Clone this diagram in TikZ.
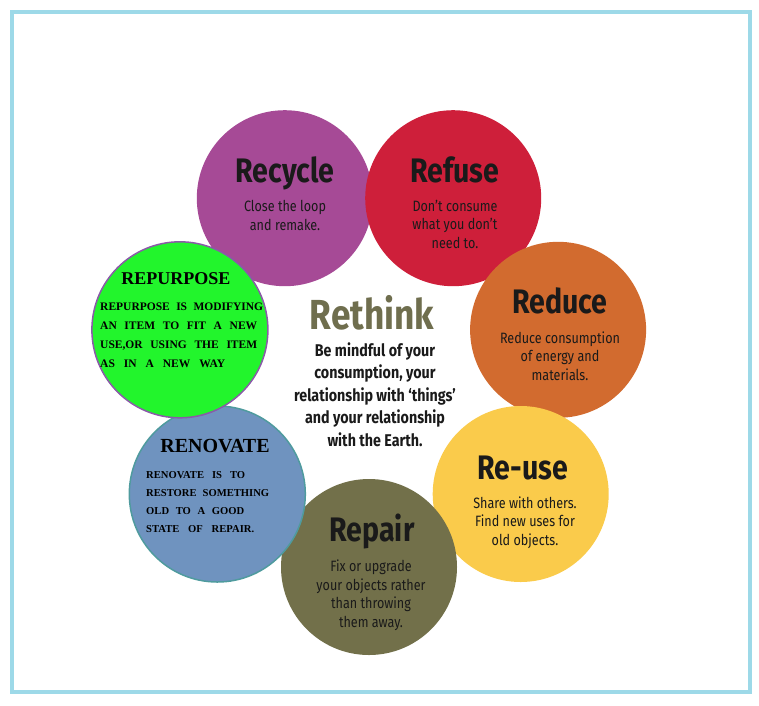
\documentclass[tikz,border=0pt]{standalone}
\usepackage{fontspec}
\setmainfont{Liberation Serif}
\newfontfamily\condfont[FakeStretch=0.84]{Fira Sans}
\usetikzlibrary{positioning}
\definecolor{recyclePurple}{HTML}{A64A96}
\definecolor{refuseRed}{HTML}{CE1F3A}
\definecolor{reduceOrange}{HTML}{D26B2F}
\definecolor{reuseYellow}{HTML}{FACB4B}
\definecolor{repairOlive}{HTML}{72704A}
\definecolor{renovateBlue}{HTML}{6F93BF}
\definecolor{renovateEdge}{HTML}{4F9B9E}
\definecolor{repurposeGreen}{HTML}{22F52C}
\definecolor{repurposeEdge}{HTML}{8A5AA8}
\definecolor{rethinkOlive}{HTML}{6F6E4E}
\definecolor{frameBlue}{HTML}{9DD9E8}
\definecolor{inkBlack}{HTML}{1A1A1A}

\begin{document}
\begin{tikzpicture}[x=1pt, y=-1pt,
  bubble/.style={circle, minimum size=176pt, inner sep=0pt},
  bubbleTitle/.style={anchor=base, inner sep=0pt, inkBlack, font=\condfont\bfseries\fontsize{34}{40}\selectfont},
  bubbleText/.style={anchor=base, inner sep=0pt, inkBlack, align=center, font=\condfont\fontsize{15}{18.5}\selectfont},
  serifTitle/.style={anchor=base, inner sep=0pt, black, font=\bfseries\fontsize{20}{24}\selectfont},
  serifText/.style={anchor=base west, inner sep=0pt, black, align=left, font=\bfseries\fontsize{11.5}{18.7}\selectfont}]
  \useasboundingbox (0,0) rectangle (759,705);
  \draw[frameBlue, line width=4pt] (12,12) rectangle (750,692);

  % the seven bubbles
  \node[bubble, fill=recyclePurple] (recycle) at (284.8,198.2) {};
  \node[bubble, fill=refuseRed] (refuse) at (453.2,198.2) {};
  \node[bubble, fill=reduceOrange] (reduce) at (558.1,329.8) {};
  \node[bubble, fill=reuseYellow] (reuse) at (520.7,494.0) {};
  \node[bubble, fill=repairOlive] (repair) at (369,567) {};
  \node[bubble, fill=renovateBlue, draw=renovateEdge, line width=1.5pt] (renovate) at (217.3,494.0) {};
  \node[bubble, fill=repurposeGreen, draw=repurposeEdge, line width=1.5pt] (repurpose) at (179.9,329.8) {};

  % text nodes sit on the baseline of their last line
  \node[bubbleTitle] (recycleTitle) at (285,182) {Recycle};
  \node[bubbleText] (recycleText) at (285,230) {Close the loop\\and remake.};

  \node[bubbleTitle] (refuseTitle) at (455,182) {Refuse};
  \node[bubbleText] (refuseText) at (455,248) {Don’t consume\\what you don’t\\need to.};

  \node[bubbleTitle] (reduceTitle) at (560,313) {Reduce};
  \node[bubbleText] (reduceText) at (560,380) {Reduce consumption\\of energy and\\materials.};

  \node[bubbleTitle] (reuseTitle) at (523,479) {Re-use};
  \node[bubbleText] (reuseText) at (525,545) {Share with others.\\Find new uses for\\old objects.};

  \node[bubbleTitle] (repairTitle) at (372,541) {Repair};
  \node[bubbleText] (repairText) at (371,627) {Fix or upgrade\\your objects rather\\than throwing\\them away.};

  \node[serifTitle] (renovateTitle) at (215,452) {RENOVATE};
  \node[serifText, font=\bfseries\fontsize{10.6}{18}\selectfont] (renovateText) at (146,532) {%
    \makebox[99pt][s]{RENOVATE IS TO}\\
    \makebox[123pt][s]{RESTORE SOMETHING}\\
    \makebox[98pt][s]{OLD TO A GOOD}\\
    \makebox[108pt][s]{STATE OF REPAIR.}};

  \node[serifTitle, font=\bfseries\fontsize{18}{22}\selectfont] (repurposeTitle) at (176,284) {REPURPOSE};
  \node[serifText] (repurposeText) at (100,367) {%
    \makebox[163pt][s]{REPURPOSE IS MODIFYING}\\
    \makebox[157pt][s]{AN ITEM TO FIT A NEW}\\
    \makebox[157pt][s]{USE,OR USING THE ITEM}\\
    \makebox[125pt][s]{AS IN A NEW WAY}};

  % centre text
  \node[anchor=base, inner sep=0pt, rethinkOlive, font=\condfont\bfseries\fontsize{42}{46}\selectfont] (rethinkTitle) at (372,329) {Rethink};
  \node[anchor=base, inner sep=0pt, inkBlack, align=center, font=\condfont\bfseries\fontsize{17}{22.4}\selectfont] (rethinkText) at (375,446)
    {Be mindful of your\\consumption, your\\relationship with ‘things’\\and your relationship\\with the Earth.};
\end{tikzpicture}
\end{document}
